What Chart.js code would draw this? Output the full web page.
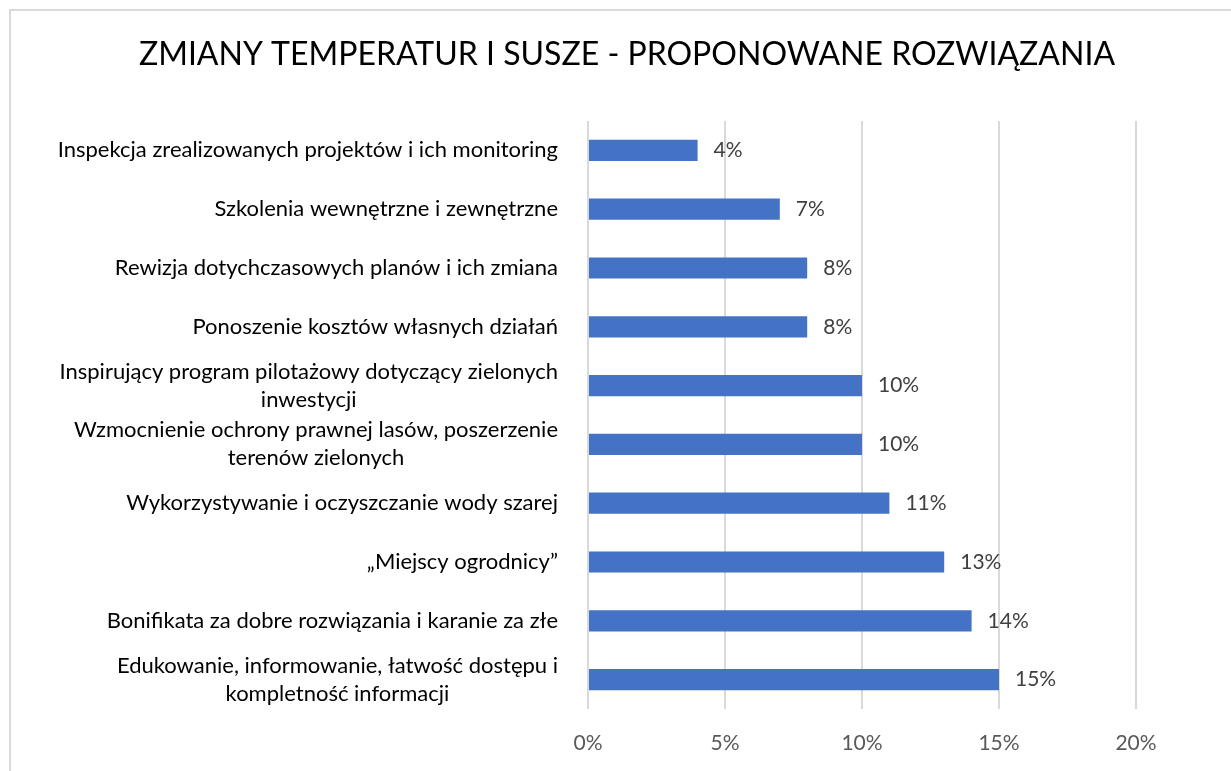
<!DOCTYPE html>
<html>
<head>
<meta charset="utf-8">
<script src="https://cdn.jsdelivr.net/npm/chart.js@4"></script>
<style>
  html, body { margin: 0; padding: 0; background: #fff; }
  #wrap { width: 1231px; height: 771px; }
</style>
</head>
<body>
<div id="wrap"><canvas id="chart" width="1231" height="771"></canvas></div>
<script>
// Dane wykresu
const tytul = 'ZMIANY TEMPERATUR I SUSZE - PROPONOWANE ROZWIĄZANIA';
const kategorie = [
    'Inspekcja zrealizowanych projektów i ich monitoring',
    'Szkolenia wewnętrzne i zewnętrzne',
    'Rewizja dotychczasowych planów i ich zmiana',
    'Ponoszenie kosztów własnych działań',
    ['Inspirujący program pilotażowy dotyczący zielonych', 'inwestycji'],
    ['Wzmocnienie ochrony prawnej lasów, poszerzenie', 'terenów zielonych'],
    'Wykorzystywanie i oczyszczanie wody szarej',
    '„Miejscy ogrodnicy”',
    'Bonifikata za dobre rozwiązania i karanie za złe',
    ['Edukowanie, informowanie, łatwość dostępu i', 'kompletność informacji']
];
const wartosci = [4, 7, 8, 8, 10, 10, 11, 13, 14, 15];
const osX = { min: 0, max: 20, krok: 5 };

const FONT = 'Lato';

// Tło, ramka i tytuł
const tloPlugin = {
    id: 'tlo',
    beforeDraw(chart) {
        const c = chart.ctx;
        c.save();
        c.fillStyle = '#fff';
        c.fillRect(0, 0, chart.width, chart.height);
        c.strokeStyle = '#d9d9d9';
        c.lineWidth = 2;
        c.beginPath();
        c.moveTo(10, chart.height);
        c.lineTo(10, 10);
        c.lineTo(chart.width, 10);
        c.stroke();
        c.font = '32px ' + FONT;
        c.fillStyle = '#000';
        c.textAlign = 'center';
        c.textBaseline = 'middle';
        c.fillText(tytul, 627, 55);
        c.restore();
    }
};

// Etykiety kategorii (linie wyśrodkowane względem siebie, blok wyrównany do prawej)
const etykietyPlugin = {
    id: 'etykiety',
    afterDraw(chart) {
        const c = chart.ctx;
        const y = chart.scales.y;
        const prawo = chart.chartArea.left - 30;
        const wys = 28;
        c.save();
        c.font = '22px ' + FONT;
        c.fillStyle = '#000';
        c.textAlign = 'center';
        c.textBaseline = 'middle';
        kategorie.forEach((lab, i) => {
            const linie = Array.isArray(lab) ? lab : [lab];
            const szer = Math.max(...linie.map(l => c.measureText(l).width));
            const sx = prawo - szer / 2;
            const py = y.getPixelForTick(i);
            linie.forEach((l, j) => {
                c.fillText(l, sx, py + (j - (linie.length - 1) / 2) * wys);
            });
        });
        c.restore();
    }
};

// Wartości przy słupkach
const wartosciPlugin = {
    id: 'wartosci',
    afterDatasetsDraw(chart) {
        const c = chart.ctx;
        const meta = chart.getDatasetMeta(0);
        c.save();
        c.font = '21px ' + FONT;
        c.fillStyle = '#404040';
        c.textAlign = 'left';
        c.textBaseline = 'middle';
        meta.data.forEach((bar, i) => {
            c.fillText(wartosci[i] + '%', bar.x + 16, bar.y);
        });
        c.restore();
    }
};

const ctx = document.getElementById('chart').getContext('2d');
const wykres = new Chart(ctx, {
    type: 'bar',
    data: {
        labels: kategorie,
        datasets: [{
            data: wartosci,
            backgroundColor: '#4472c4',
            barPercentage: 0.72,
            categoryPercentage: 0.5
        }]
    },
    options: {
        indexAxis: 'y',
        responsive: false,
        animation: false,
        layout: {
            padding: { left: 0, right: 95, top: 121, bottom: 15 }
        },
        plugins: {
            legend: { display: false },
            tooltip: { enabled: false },
            title: { display: false }
        },
        scales: {
            x: {
                min: osX.min,
                max: osX.max,
                border: { display: false },
                grid: { color: '#d9d9d9', lineWidth: 2, drawTicks: false },
                ticks: {
                    stepSize: osX.krok,
                    padding: 22,
                    color: '#595959',
                    font: { family: FONT, size: 21 },
                    callback: v => v + '%'
                },
                afterFit(scale) { scale.height = 47; }
            },
            y: {
                border: { display: false },
                grid: { display: false, drawTicks: false },
                ticks: { display: false },
                afterFit(scale) { scale.width = 588; }
            }
        }
    },
    plugins: [tloPlugin, etykietyPlugin, wartosciPlugin]
});
</script>
</body>
</html>
